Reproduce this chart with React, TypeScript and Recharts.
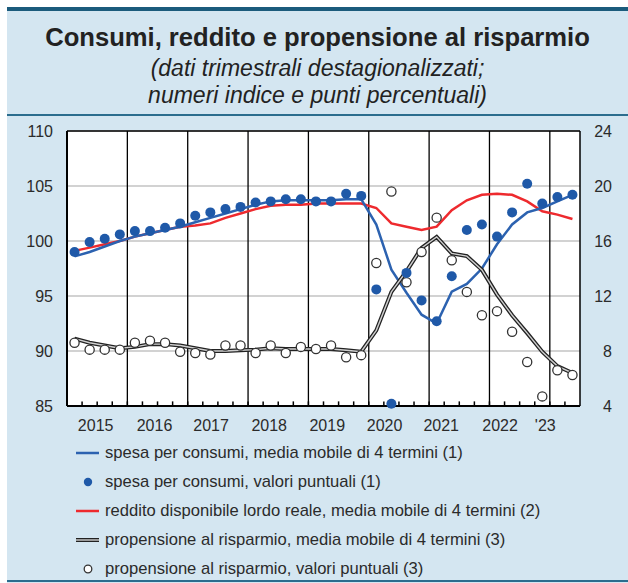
import React from "react";
import { ComposedChart, Line, XAxis, YAxis, CartesianGrid, ReferenceLine } from "recharts";

// quarterly data, 2015 Q1 - 2023 Q2
const quarters = [
  "2015T1", "2015T2", "2015T3", "2015T4", "2016T1", "2016T2", "2016T3", "2016T4",
  "2017T1", "2017T2", "2017T3", "2017T4", "2018T1", "2018T2", "2018T3", "2018T4",
  "2019T1", "2019T2", "2019T3", "2019T4", "2020T1", "2020T2", "2020T3", "2020T4",
  "2021T1", "2021T2", "2021T3", "2021T4", "2022T1", "2022T2", "2022T3", "2022T4",
  "2023T1", "2023T2",
];
const spesaPunt = [
  99.0, 99.9, 100.2, 100.6, 100.9, 100.9, 101.2, 101.6, 102.3, 102.6, 102.9, 103.1,
  103.5, 103.6, 103.8, 103.8, 103.6, 103.6, 104.3, 104.1, 95.6, 85.2, 97.1, 94.6,
  92.7, 96.8, 101.0, 101.5, 100.4, 102.6, 105.2, 103.4, 104.0, 104.2,
];
const spesaMedia = [
  98.6, 99.0, 99.5, 100.0, 100.4, 100.7, 101.0, 101.3, 101.7, 102.1, 102.5, 102.9,
  103.3, 103.6, 103.7, 103.7, 103.7, 103.7, 103.8, 103.8, 101.5, 97.4, 95.3, 93.3,
  92.5, 95.4, 96.1, 97.5, 99.7, 101.5, 102.6, 103.0, 103.6, 104.2,
];
const redditoMedia = [
  99.1, 99.4, 99.7, 100.0, 100.4, 100.7, 101.0, 101.3, 101.4, 101.6, 102.1, 102.5,
  102.9, 103.2, 103.3, 103.3, 103.4, 103.4, 103.4, 103.4, 103.0, 101.6, 101.3, 101.0,
  101.3, 102.8, 103.7, 104.2, 104.3, 104.2, 103.6, 102.7, 102.4, 102.0,
];
const propPunt = [
  8.6, 8.1, 8.1, 8.1, 8.6, 8.75, 8.6, 7.95, 7.85, 7.75, 8.4, 8.4,
  7.85, 8.4, 7.85, 8.3, 8.15, 8.4, 7.55, 7.7, 14.4, 19.6, 13.0, 15.2,
  17.7, 14.6, 12.3, 10.6, 10.9, 9.4, 7.2, 4.7, 6.6, 6.25,
];
const propMedia = [
  8.9, 8.6, 8.4, 8.2, 8.3, 8.5, 8.5, 8.4, 8.2, 8.0, 8.0, 8.05,
  8.1, 8.2, 8.15, 8.15, 8.15, 8.15, 8.05, 7.95, 9.5, 12.3, 13.8, 15.5,
  16.3, 15.1, 14.9, 13.9, 12.1, 10.6, 9.3, 7.95, 6.9, 6.4,
];

const yearLabels = ["2015", "2016", "2017", "2018", "2019", "2020", "2021", "2022", "'23"];
const yearLabelAt = [1.9, 5.8, 9.55, 13.4, 17.25, 21.05, 24.8, 28.7, 31.7];
const yearBounds = [4, 8, 12, 16, 20, 24, 28, 32];
const quarterTicks = Array.from({ length: 33 }, (_, i) => i + 1);
const leftTicks = [85, 90, 95, 100, 105, 110];
const rightTicks = [4, 8, 12, 16, 20, 24];

const data = quarters.map((q, i) => ({
  q,
  x: i + 0.5,
  spesaPunt: spesaPunt[i],
  spesaMedia: spesaMedia[i],
  redditoMedia: redditoMedia[i],
  propPunt: propPunt[i],
  propMedia: propMedia[i],
}));

const FONT = "'Liberation Sans', Arial, Helvetica, sans-serif";
const TXT = "#2b2b2b";
const BLUE = "#2c62b0";
const DOT = "#1f59a8";
const RED = "#ee2a2e";
const TEAL = "#1b5b7c";

const LeftTick = ({ x, y, payload }: any) => (
  <text x={x - 14} y={y} dy="0.36em" textAnchor="end" fontSize={16} fill={TXT} fontFamily={FONT}>
    {payload.value}
  </text>
);
const RightTick = ({ x, y, payload }: any) => (
  <text x={x + 32} y={y} dy="0.36em" textAnchor="end" fontSize={16} fill={TXT} fontFamily={FONT}>
    {payload.value}
  </text>
);
const YearTick = ({ x, y, index }: any) => (
  <text x={x} y={y + 19} dy="0.36em" textAnchor="middle" fontSize={16} fill={TXT} fontFamily={FONT}>
    {yearLabels[index]}
  </text>
);

const legendItems = [
  { kind: "line", color: BLUE, text: "spesa per consumi, media mobile di 4 termini (1)" },
  { kind: "dot", color: DOT, text: "spesa per consumi, valori puntuali (1)" },
  { kind: "line", color: RED, text: "reddito disponibile lordo reale, media mobile di 4 termini (2)" },
  { kind: "double", color: "#222", text: "propensione al risparmio, media mobile di 4 termini (3)" },
  { kind: "circle", color: "#333", text: "propensione al risparmio, valori puntuali (3)" },
];

const LegendIcon = ({ kind, color }: { kind: string; color: string }) => (
  <svg width={26} height={14} style={{ display: "block" }}>
    {kind === "line" && <line x1={1} x2={24} y1={7} y2={7} stroke={color} strokeWidth={2.5} />}
    {kind === "dot" && <circle cx={13} cy={7} r={4.2} fill={color} />}
    {kind === "double" && (
      <g>
        <line x1={1} x2={24} y1={7} y2={7} stroke={color} strokeWidth={4} />
        <line x1={1} x2={24} y1={7} y2={7} stroke="#cfcfcf" strokeWidth={1.4} />
      </g>
    )}
    {kind === "circle" && <circle cx={13} cy={7} r={3.8} fill="#fff" stroke={color} strokeWidth={1.3} />}
  </svg>
);

export default function App() {
  return (
    <div style={{ position: "absolute", left: 0, top: 0, width: 628, height: 583, background: "#fff", overflow: "hidden", fontFamily: FONT }}>
      <div style={{ position: "absolute", left: 7, top: 7, width: 621, height: 576, background: "#d4e6f1" }} />
      <div style={{ position: "absolute", left: 7, top: 7, width: 621, height: 4, background: TEAL }} />
      <div style={{ position: "absolute", left: 7, top: 114, width: 621, height: 2, background: "#2b6d8e" }} />
      <div style={{ position: "absolute", left: 7, top: 580, width: 621, height: 2, background: "#2b6d8e" }} />

      <div style={{ position: "absolute", left: 7, width: 621, top: 22, textAlign: "center", fontSize: 25.6, fontWeight: "bold", color: "#222", lineHeight: "30px" }}>
        Consumi, reddito e propensione al risparmio
      </div>
      <div style={{ position: "absolute", left: 7, width: 621, top: 54.5, textAlign: "center", fontSize: 23, fontStyle: "italic", color: "#222", lineHeight: "27px" }}>
        (dati trimestrali destagionalizzati;
        <br />
        numeri indice e punti percentuali)
      </div>

      <div style={{ position: "absolute", left: 0, top: 0 }}>
        <ComposedChart width={628} height={440} data={data} margin={{ top: 131, right: 8, bottom: 4, left: 17 }}>
          <CartesianGrid xAxisId="yr" yAxisId="L" vertical={false} stroke="#c3c3c3" strokeWidth={1.5} fill="#ffffff" />
          <XAxis
            xAxisId="yr"
            dataKey="x"
            type="number"
            domain={[0, 34]}
            ticks={yearLabelAt}
            interval={0}
            height={30}
            tickSize={0}
            tickMargin={0}
            tickLine={false}
            axisLine={{ stroke: "#000", strokeWidth: 2 }}
            tick={YearTick}
          />
          <YAxis
            yAxisId="L"
            orientation="left"
            domain={[85, 110]}
            ticks={leftTicks}
            interval={0}
            width={50}
            tickSize={0}
            tickMargin={0}
            tickLine={false}
            axisLine={{ stroke: "#000", strokeWidth: 2 }}
            tick={LeftTick}
          />
          <YAxis
            yAxisId="R"
            orientation="right"
            domain={[4, 24]}
            ticks={rightTicks}
            interval={0}
            width={40}
            tickSize={0}
            tickMargin={0}
            tickLine={false}
            axisLine={{ stroke: "#000", strokeWidth: 1.5 }}
            tick={RightTick}
          />
          <ReferenceLine xAxisId="yr" yAxisId="L" y={110} stroke="#000" strokeWidth={1.5} />
          {yearBounds.map((b) => (
            <ReferenceLine key={b} xAxisId="yr" yAxisId="L" x={b} stroke="#000" strokeWidth={1.3} />
          ))}
          {/* small quarter tick marks along the bottom edge */}
          {quarterTicks.map((t) => (
            <ReferenceLine
              key={"s" + t}
              xAxisId="yr"
              yAxisId="L"
              segment={[{ x: t, y: 85 }, { x: t, y: 85.42 }]}
              stroke="#000"
              strokeWidth={1.5}
            />
          ))}

          <Line xAxisId="yr" yAxisId="L" dataKey="redditoMedia" stroke={RED} strokeWidth={2.5} dot={false} type="linear" isAnimationActive={false} />
          <Line xAxisId="yr" yAxisId="L" dataKey="spesaMedia" stroke={BLUE} strokeWidth={2.5} dot={false} type="linear" isAnimationActive={false} />
          <Line xAxisId="yr" yAxisId="R" dataKey="propMedia" stroke="#222" strokeWidth={4} dot={false} type="linear" isAnimationActive={false} />
          <Line xAxisId="yr" yAxisId="R" dataKey="propMedia" stroke="#cfcfcf" strokeWidth={1.4} dot={false} type="linear" isAnimationActive={false} />
          <Line
            xAxisId="yr"
            yAxisId="R"
            dataKey="propPunt"
            stroke="none"
            dot={{ r: 4.6, fill: "#fff", stroke: "#333", strokeWidth: 1.3 }}
            isAnimationActive={false}
          />
          <Line
            xAxisId="yr"
            yAxisId="L"
            dataKey="spesaPunt"
            stroke="none"
            dot={{ r: 5, fill: DOT, stroke: "none" }}
            isAnimationActive={false}
          />
        </ComposedChart>
      </div>

      <div style={{ position: "absolute", left: 75, top: 438 }}>
        {legendItems.map((it) => (
          <div key={it.text} style={{ display: "flex", alignItems: "center", height: 29, fontSize: 16.6, color: TXT }}>
            <LegendIcon kind={it.kind} color={it.color} />
            <span style={{ marginLeft: 4, whiteSpace: "nowrap" }}>{it.text}</span>
          </div>
        ))}
      </div>
    </div>
  );
}
